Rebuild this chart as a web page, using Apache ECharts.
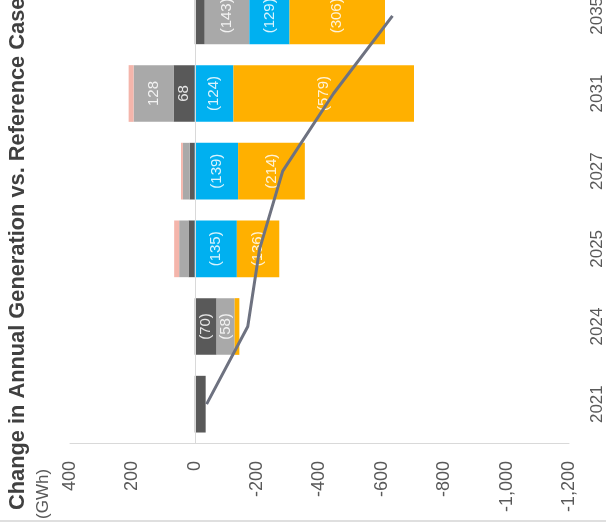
<!DOCTYPE html>
<html>
<head>
<meta charset="utf-8">
<script src="https://cdn.jsdelivr.net/npm/echarts@6/dist/echarts.min.js"></script>
<style>
html,body{margin:0;padding:0;background:#fff;overflow:hidden;}
#wrap{position:relative;width:606px;height:527px;overflow:hidden;}
#chart{position:absolute;left:0;top:-23px;width:606px;height:550px;}
</style>
</head>
<body>
<div id="wrap"><div id="chart"></div></div>
<script>
const categories = ['2021', '2024', '2025', '2027', '2031', '2035'];
const darkGray  = [-35, -70, 20, 16, 68, -32];
const lightGray = [0, -58, 30, 22, 128, -143];
const pink      = [0, 0, 16, 6, 16, 0];
const blue      = [0, 0, -135, -139, -124, -129];
const orange    = [0, -15, -136, -214, -579, -306];
const netChange = [-38, -170, -208, -282, -445, -634];
const valueMin = -1200, valueMax = 400, valueStep = 200;
const titleText = 'Change in Annual Generation vs. Reference Case';
const unitText = '(GWh)';

const SHIFT = 23; // chart canvas is shifted up by this many px
const FONT = 'Liberation Sans, Arial, sans-serif';
const labelFmt = p => {
  const v = p.value, a = Math.abs(v);
  if (a < 45) return '';
  return v < 0 ? '(' + a + ')' : String(a);
};
const barLabel = {
  show: true, position: 'inside', rotate: 90, formatter: labelFmt,
  color: 'rgba(255,255,255,0.85)', fontSize: 15, fontFamily: FONT
};
function barSeries(name, data, color) {
  return {
    name, type: 'bar', stack: 'gen', data, barCategoryGap: '27%',
    itemStyle: { color }, label: barLabel, emphasis: { disabled: true }
  };
}

const chart = echarts.init(document.getElementById('chart'), null, { renderer: 'canvas' });
chart.setOption({
  animation: false,
  grid: { left: 70, right: 36, top: 0, bottom: 84 },
  xAxis: {
    type: 'value', inverse: true, min: valueMin, max: valueMax, interval: valueStep,
    axisLine: { show: true, onZero: false, lineStyle: { color: '#d9d9d9' } },
    axisTick: { show: false }, splitLine: { show: false },
    axisLabel: {
      rotate: 90, margin: 18, fontSize: 18, color: '#595959', fontFamily: FONT,
      formatter: v => v.toLocaleString('en-US')
    }
  },
  yAxis: {
    type: 'category', data: categories, position: 'right',
    axisLine: { show: false, onZero: false }, axisTick: { show: false },
    axisLabel: { rotate: 90, margin: 20, fontSize: 17, color: '#595959', fontFamily: FONT }
  },
  series: [
    Object.assign(barSeries('Dark', darkGray, '#595959'), {
      markLine: {
        silent: true, symbol: 'none', label: { show: false },
        lineStyle: { color: '#d9d9d9', width: 1, type: 'solid' },
        data: [{ xAxis: 0 }]
      }
    }),
    barSeries('Light', lightGray, '#a9a9a9'),
    barSeries('Pink', pink, '#f4b5ab'),
    barSeries('Blue', blue, '#00b0f0'),
    barSeries('Orange', orange, '#ffb000'),
    {
      name: 'Net', type: 'line', data: netChange, symbol: 'none', z: 5,
      lineStyle: { color: '#6e7280', width: 3 }, emphasis: { disabled: true }
    }
  ],
  graphic: [
    {
      type: 'text', x: 18, y: 510 + SHIFT, rotation: Math.PI / 2,
      style: { text: titleText, fontSize: 21.8, fontWeight: 'bold', fill: '#404040',
               fontFamily: FONT, textAlign: 'left', textVerticalAlign: 'middle' }
    },
    {
      type: 'text', x: 43, y: 519 + SHIFT, rotation: Math.PI / 2,
      style: { text: unitText, fontSize: 17, fill: '#595959',
               fontFamily: FONT, textAlign: 'left', textVerticalAlign: 'middle' }
    },
    {
      type: 'line', shape: { x1: 0, y1: 521 + SHIFT, x2: 606, y2: 521 + SHIFT },
      style: { stroke: '#bfbfbf', lineWidth: 1 }
    }
  ]
});
</script>
</body>
</html>
